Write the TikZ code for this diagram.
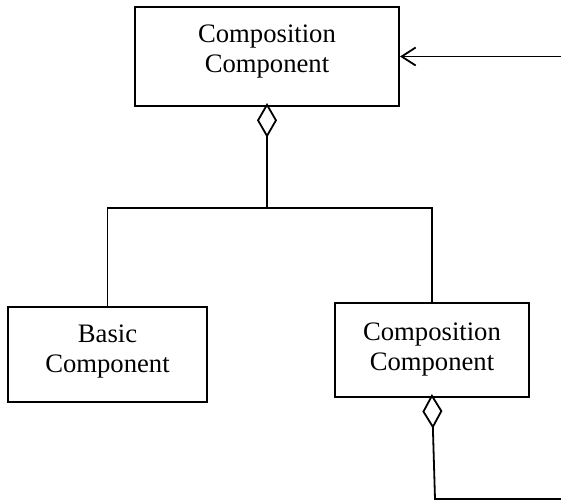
\documentclass[tikz,border=0pt]{standalone}
\usepackage{fontspec}
\setmainfont{Liberation Serif}
\usetikzlibrary{arrows.meta}

\begin{document}
\begin{tikzpicture}[x=0.75pt, y=-0.75pt,
    comp/.style={draw, line width=1.5pt, align=center, inner sep=0pt,
        font=\fontsize{20}{22.5}\selectfont},
    conn/.style={line width=1.35pt},
    agg/.style={conn, shorten <=-3pt, {Diamond[open, length=26pt, width=15pt]}-}]
\useasboundingbox (0,0) rectangle (561,501);
% components
\node[comp, minimum width=198pt, minimum height=74.25pt, text depth=12pt] (top) at (267,56.5) {Composition\\Component};
\node[comp, minimum width=149pt, minimum height=71pt, text depth=9pt] (basic) at (107.5,354.5) {Basic\\Component};
\node[comp, minimum width=145pt, minimum height=70.5pt] (sub) at (432,350) {Composition\\Component};
\coordinate (split) at (267,208);
\coordinate (src) at (561,56.5);
\coordinate (bend) at (435,499);
\coordinate (out) at (561,499);
% aggregation tree
\draw[agg] (top.south) -- (split);
\draw[conn] (basic.north) |- (split) -| (sub.north);
% recursion
\draw[conn, -{Straight Barb[length=10.5pt, width=13.5pt]}] (src) -- (top.east);
\draw[agg] (sub.south) -- (bend) -- (out);
\end{tikzpicture}
\end{document}
